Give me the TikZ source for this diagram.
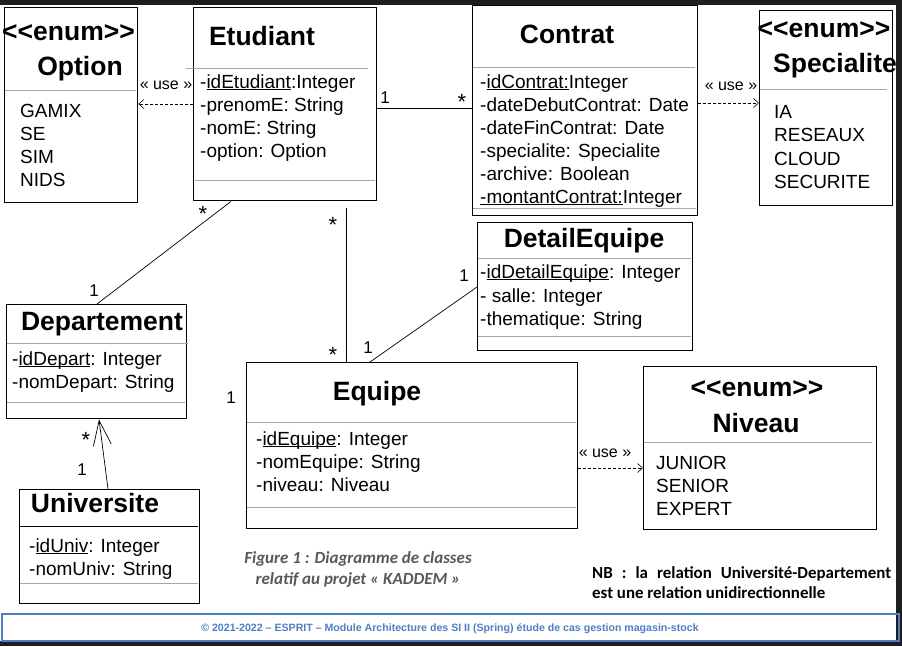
\documentclass[tikz,border=0pt]{standalone}
\usepackage{fontspec}
\setmainfont{Liberation Sans}[Ligatures=TeXOff]
\newfontfamily\calib{Carlito}
\usetikzlibrary{calc,arrows.meta}
\definecolor{darkbg}{HTML}{1E1E1E}
\definecolor{sepgray}{HTML}{A8A8A8}
\definecolor{footblue}{HTML}{4F7FC0}
\definecolor{capgray}{HTML}{595959}
\newcommand\myul[1]{\setbox0\hbox{#1}\rlap{\rule[-2.2pt]{\wd0}{0.9pt}}#1}
\newcommand\enumst{<\kern0pt<enum>\kern0pt>}
\begin{document}
\begin{tikzpicture}[x=1pt,y=-1pt,
  box/.style={draw=black, line width=1.4pt, anchor=north west, inner sep=0pt, fill=white},
  ttl/.style={font=\fontsize{26.5}{30}\selectfont\bfseries, anchor=base, inner sep=0pt},
  attr/.style={font=\fontsize{19}{23}\selectfont, anchor=base west, inner sep=0pt},
  mult/.style={font=\fontsize{17}{20}\selectfont, anchor=base, inner sep=0pt},
  star/.style={font=\fontsize{22}{24}\selectfont, anchor=base, inner sep=0pt},
  uselbl/.style={font=\fontsize{16}{19}\selectfont, anchor=base, inner sep=0pt},
  sepline/.style={draw=sepgray, line width=0.9pt},
  depend/.style={dash pattern=on 3pt off 2pt, line width=0.6pt, -{Straight Barb[length=5pt,width=9pt,line width=0.6pt]}},
  assoc/.style={line width=0.7pt},
  navig/.style={line width=0.7pt, -{Straight Barb[length=25pt,width=18pt,line width=0.7pt]}}
]
\useasboundingbox (0,0) rectangle (902,646);
\fill[darkbg] (0,0) rectangle (902,646);
\fill[white] (0,5) rectangle (896,641);

% footer
\node[draw=footblue, line width=1.8pt, anchor=north west, minimum width=897pt, minimum height=27pt, inner sep=0pt] (foot) at (0.9,613) {};
\node[anchor=base, inner sep=0pt, text=footblue, font=\fontsize{10.6}{12}\selectfont\bfseries] (foottxt) at (450,631) {© 2021-2022 – ESPRIT – Module Architecture des SI II (Spring) étude de cas gestion magasin-stock};

% class boxes
\node[box, minimum width=133pt, minimum height=195pt] (opt) at (4,7) {};
\node[box, minimum width=183pt, minimum height=193pt] (etu) at (193,7) {};
\node[box, minimum width=225pt, minimum height=210pt] (con) at (472,5) {};
\node[box, minimum width=133pt, minimum height=195pt] (spe) at (759,10) {};
\node[box, minimum width=215pt, minimum height=128pt] (det) at (477,222) {};
\node[box, minimum width=180pt, minimum height=114pt] (dep) at (6,304) {};
\node[box, minimum width=331pt, minimum height=166pt] (equ) at (246,362) {};
\node[box, minimum width=180pt, minimum height=114pt] (uni) at (19,489) {};
\node[box, minimum width=233pt, minimum height=163pt] (niv) at (643,366) {};

% separators
\draw[sepline] (5,90) -- (136,90);
\draw[sepline] (186,68) -- (368,68);
\draw[sepline] (195,180) -- (375,180);
\draw[sepline] (473,67) -- (695,67);
\draw[sepline] (473,208) -- (696,208);
\draw[sepline] (760,89) -- (887,89);
\draw[sepline] (478,258) -- (691,258);
\draw[sepline] (478,336) -- (691,336);
\draw[sepline] (7,343) -- (188,343);
\draw[sepline] (7,402) -- (185,402);
\draw[sepline] (247,422) -- (576,422);
\draw[sepline] (247,507) -- (576,507);
\draw[line width=0.9pt] (20,526) -- (198,526);
\draw[sepline] (20,583) -- (198,583);
\draw[sepline] (644,442) -- (872,442);

% titles
\node[ttl] (optst) at (68.5,40) {\enumst};
\node[ttl] (optn) at (80,75) {Option};
\node[ttl] (etun) at (262,45) {Etudiant};
\node[ttl] (conn) at (567,43) {Contrat};
\node[ttl] (spest) at (824,37) {\enumst};
\node[ttl] (spen) at (835,72) {Specialite};
\node[ttl] (detn) at (584,247) {DetailEquipe};
\node[ttl] (depn) at (102,330) {Departement};
\node[ttl] (equn) at (377,400) {Equipe};
\node[ttl] (unin) at (95,512) {Universite};
\node[ttl] (nivst) at (757,396) {\enumst};
\node[ttl] (nivn) at (756,432) {Niveau};

% Option items
\node[attr] (o1) at (20,117) {GAMIX};
\node[attr] (o2) at (20,140) {SE};
\node[attr] (o3) at (20,163) {SIM};
\node[attr] (o4) at (20,186) {NIDS};
% Etudiant attributes
\node[attr] (e1) at (200,88) {-\myul{idEtudiant}:Integer};
\node[attr] (e2) at (200,111) {-prenomE: String};
\node[attr] (e3) at (200,134) {-nomE: String};
\node[attr] (e4) at (200,157) {-option: Option};
% Contrat attributes
\node[attr] (c1) at (480,88) {-\myul{idContrat:}Integer};
\node[attr] (c2) at (480,111) {-dateDebutContrat: Date};
\node[attr] (c3) at (480,134) {-dateFinContrat: Date};
\node[attr] (c4) at (480,157) {-specialite: Specialite};
\node[attr] (c5) at (480,180) {-archive: Boolean};
\node[attr] (c6) at (480,203) {\myul{-montantContrat:}Integer};
% Specialite items
\node[attr] (s1) at (774,118) {IA};
\node[attr] (s2) at (774,141) {RESEAUX};
\node[attr] (s3) at (774,165) {CLOUD};
\node[attr] (s4) at (774,188) {SECURITE};
% DetailEquipe
\node[attr] (d1) at (480,278) {-\myul{idDetailEquipe}: Integer};
\node[attr] (d2) at (480,302) {- salle: Integer};
\node[attr] (d3) at (480,325) {-thematique: String};
% Departement
\node[attr] (p1) at (12,365) {-\myul{idDepart}: Integer};
\node[attr] (p2) at (12,388) {-nomDepart: String};
% Equipe
\node[attr] (q1) at (256,445) {-\myul{idEquipe}: Integer};
\node[attr] (q2) at (256,468) {-nomEquipe: String};
\node[attr] (q3) at (256,491) {-niveau: Niveau};
% Universite
\node[attr] (u1) at (29,552) {-\myul{idUniv}: Integer};
\node[attr] (u2) at (29,575) {-nomUniv: String};
% Niveau
\node[attr] (n1) at (656,469) {JUNIOR};
\node[attr] (n2) at (656,492) {SENIOR};
\node[attr] (n3) at (656,515) {EXPERT};

% dependencies
\draw[depend] ($(etu.north west)+(0,97)$) -- ($(opt.north east)+(0,97)$);
\node[uselbl] (use1) at (166,89) {« use »};
\draw[depend] ($(con.north east)+(0,98)$) -- ($(spe.north west)+(0,93)$);
\node[uselbl] (use2) at (731,90) {« use »};
\draw[depend] ($(equ.north east)+(0,106)$) -- ($(niv.north west)+(0,102)$);
\node[uselbl] (use3) at (605,457) {« use »};

% associations
\draw[assoc] ($(etu.north east)+(0,101)$) -- ($(con.north west)+(0,103)$);
\node[mult] (m1) at (385,103) {1};
\node[star] (m2) at (462,109) {*};
\draw[assoc] ($(etu.south west)+(38,0)$) -- ($(dep.north west)+(91,0)$);
\node[star] (m3) at (203,221) {*};
\node[mult] (m4) at (94,296) {1};
\coordinate (etuq) at ($(etu.south west)+(153,7)$);
\draw[assoc] (etuq) -- ($(equ.north west)+(100,0)$);
\node[star] (m5) at (333,232) {*};
\node[star] (m6) at (333,362) {*};
\draw[assoc] ($(equ.north west)+(124,0)$) -- ($(det.north west)+(0,65)$);
\node[mult] (m7) at (368,353) {1};
\node[mult] (m8) at (464,281) {1};
\node[mult] (m9) at (231,403) {1};
\draw[navig] ($(uni.north west)+(89,0)$) -- ($(dep.south west)+(93,0)$);
\node[star] (m10) at (86,447) {*};
\node[mult] (m11) at (82,475) {1};

% caption
\node[anchor=base, inner sep=0pt, text=capgray, font=\calib\bfseries\itshape\fontsize{17}{20}\selectfont] (cap1) at (358,563) {Figure 1 : Diagramme de classes};
\node[anchor=base, inner sep=0pt, text=capgray, font=\calib\bfseries\itshape\fontsize{17}{20}\selectfont] (cap2) at (358,584) {relatif au projet « KADDEM »};
% NB
\node[anchor=base west, inner sep=0pt, font=\calib\bfseries\fontsize{16.9}{19}\selectfont] (nb1) at (592,578) {\makebox[299pt][s]{NB : la relation Université-Departement}};
\node[anchor=base west, inner sep=0pt, font=\calib\bfseries\fontsize{16.9}{19}\selectfont] (nb2) at (592,598) {est une relation unidirectionnelle};
\end{tikzpicture}
\end{document}
